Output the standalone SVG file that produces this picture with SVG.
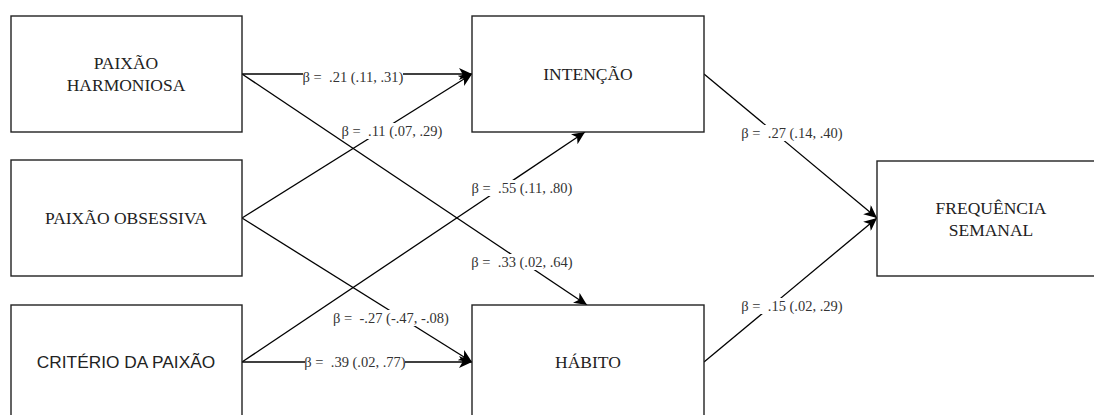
<svg xmlns="http://www.w3.org/2000/svg" width="1094" height="415" viewBox="0 0 1094 415">
<style>
.box{fill:#fff;stroke:#222;stroke-width:1.4}
.nt{font-family:"Liberation Serif","Times New Roman",serif;font-size:17.5px;fill:#222;text-anchor:middle}
.ns{font-family:"Liberation Sans",Arial,sans-serif;font-size:17.3px;fill:#222;text-anchor:middle}
.edge{fill:none;stroke:#000;stroke-width:1.3}
.lb{font-family:"Liberation Serif","Times New Roman",serif;font-size:14.5px;fill:#333;text-anchor:middle}
.lbg{fill:#fff}
</style>
<defs>
<marker id="arr" markerUnits="userSpaceOnUse" markerWidth="14" markerHeight="12" viewBox="0 0 14 12" refX="13" refY="6" orient="auto">
<path d="M0,0 L13,6 L0,12 L3.5,6 Z" fill="#000"/>
</marker>
</defs>
<rect width="1094" height="415" fill="#fff"/>
<g id="connectors">
<line class="edge" x1="242" y1="74" x2="472" y2="74" marker-end="url(#arr)"/>
<line class="edge" x1="242" y1="74" x2="587" y2="305" marker-end="url(#arr)"/>
<line class="edge" x1="242" y1="218" x2="472" y2="74" marker-end="url(#arr)"/>
<line class="edge" x1="242" y1="218" x2="472" y2="362" marker-end="url(#arr)"/>
<line class="edge" x1="242" y1="362" x2="585" y2="132" marker-end="url(#arr)"/>
<line class="edge" x1="242" y1="362" x2="472" y2="362" marker-end="url(#arr)"/>
<line class="edge" x1="704" y1="74" x2="877" y2="218" marker-end="url(#arr)"/>
<line class="edge" x1="704" y1="362" x2="877" y2="218" marker-end="url(#arr)"/>
<rect class="lbg" x="303" y="69" width="100" height="16"/>
<text class="lb" x="353" y="82">β = &#160;.21 (.11, .31)</text>
<rect class="lbg" x="342" y="123" width="101" height="16"/>
<text class="lb" x="392" y="136">β = &#160;.11 (.07, .29)</text>
<rect class="lbg" x="472" y="180" width="100" height="16"/>
<text class="lb" x="522" y="193">β = &#160;.55 (.11, .80)</text>
<rect class="lbg" x="472" y="254" width="100" height="16"/>
<text class="lb" x="522" y="267">β = &#160;.33 (.02, .64)</text>
<rect class="lbg" x="335" y="310" width="113" height="16"/>
<text class="lb" x="391" y="323">β = &#160;-.27 (-.47, -.08)</text>
<rect class="lbg" x="305" y="354" width="100" height="16"/>
<text class="lb" x="355" y="367">β = &#160;.39 (.02, .77)</text>
<rect class="lbg" x="742" y="125" width="100" height="16"/>
<text class="lb" x="792" y="138">β = &#160;.27 (.14, .40)</text>
<rect class="lbg" x="742" y="298" width="100" height="16"/>
<text class="lb" x="792" y="311">β = &#160;.15 (.02, .29)</text>
</g>
<g id="paixao-harmoniosa">
<rect class="box" x="11" y="16" width="231" height="116"/>
<text class="nt" x="126" y="69">PAIXÃO</text>
<text class="nt" x="126" y="91">HARMONIOSA</text>
</g>
<g id="paixao-obsessiva">
<rect class="box" x="11" y="160" width="231" height="116"/>
<text class="nt" x="126" y="224">PAIXÃO OBSESSIVA</text>
</g>
<g id="criterio-paixao">
<rect class="box" x="11" y="305" width="231" height="116"/>
<text class="ns" x="126" y="368">CRITÉRIO DA PAIXÃO</text>
</g>
<g id="intencao">
<rect class="box" x="472" y="16" width="232" height="116"/>
<text class="nt" x="588" y="80">INTENÇÃO</text>
</g>
<g id="habito">
<rect class="box" x="472" y="305" width="232" height="116"/>
<text class="nt" x="588" y="368">HÁBITO</text>
</g>
<g id="frequencia-semanal">
<rect class="box" x="877" y="161" width="232" height="115"/>
<text class="nt" x="991" y="214">FREQUÊNCIA</text>
<text class="nt" x="991" y="236">SEMANAL</text>
</g>
</svg>
